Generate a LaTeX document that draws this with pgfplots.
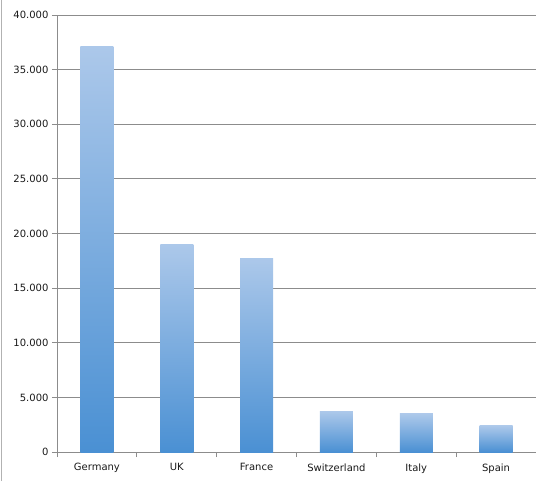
\documentclass[border=0pt]{standalone}
\usepackage{pgfplots}
\pgfplotsset{compat=1.18}
\usepackage{fontspec}
\setmainfont{DejaVu Sans}
\definecolor{bartop}{RGB}{172,200,234}
\definecolor{barbot}{RGB}{74,144,211}
\definecolor{gridgray}{RGB}{140,140,140}

\begin{document}
\begin{tikzpicture}
\begin{axis}[
  scale only axis,
  width=479bp, height=437bp,
  xmin=-0.5, xmax=5.5,
  ymin=0, ymax=40000,
  ytick={0,5000,...,40000},
  scaled y ticks=false,
  /pgf/number format/1000 sep={.},
  /pgf/number format/assume math mode=true,
  xtick={0,...,5},
  xticklabels={Germany,UK,France,Switzerland,Italy,Spain},
  minor xtick={-0.5,0.5,...,5.5},
  major x tick style={draw=none},
  axis x line*=bottom, axis y line*=left,
  ymajorgrids,
  major grid style={gridgray, line width=0.8pt},
  axis line style={gridgray, line width=0.8pt},
  tick style={gridgray, line width=0.8pt},
  tick align=outside,
  major tick length=5bp, minor tick length=5bp,
  tick label style={font=\fontsize{10bp}{12bp}\selectfont, black!90},
  xticklabel style={yshift=-3bp},
  bbar/.style={ybar, bar width=33bp, bar shift=0pt, draw=none, mark=none,
    top color=bartop, bottom color=barbot},
]
% one plot per bar so that each bar gets its own gradient
\addplot[bbar] coordinates {(0,37100)};
\addplot[bbar] coordinates {(1,19000)};
\addplot[bbar] coordinates {(2,17750)};
\addplot[bbar] coordinates {(3,3730)};
\addplot[bbar] coordinates {(4,3480)};
\addplot[bbar] coordinates {(5,2400)};
\coordinate (ll) at (rel axis cs:0,0);
\coordinate (ur) at (rel axis cs:1,1);
\end{axis}
\pgfresetboundingbox
\path[use as bounding box] ([xshift=-57bp,yshift=-29bp]ll) rectangle ([yshift=15bp]ur);
\draw[gray!60, line width=1pt] ([xshift=-55.5bp,yshift=-29bp]ll) -- ([xshift=-55.5bp,yshift=15bp]ll |- ur);
\end{tikzpicture}
\end{document}
